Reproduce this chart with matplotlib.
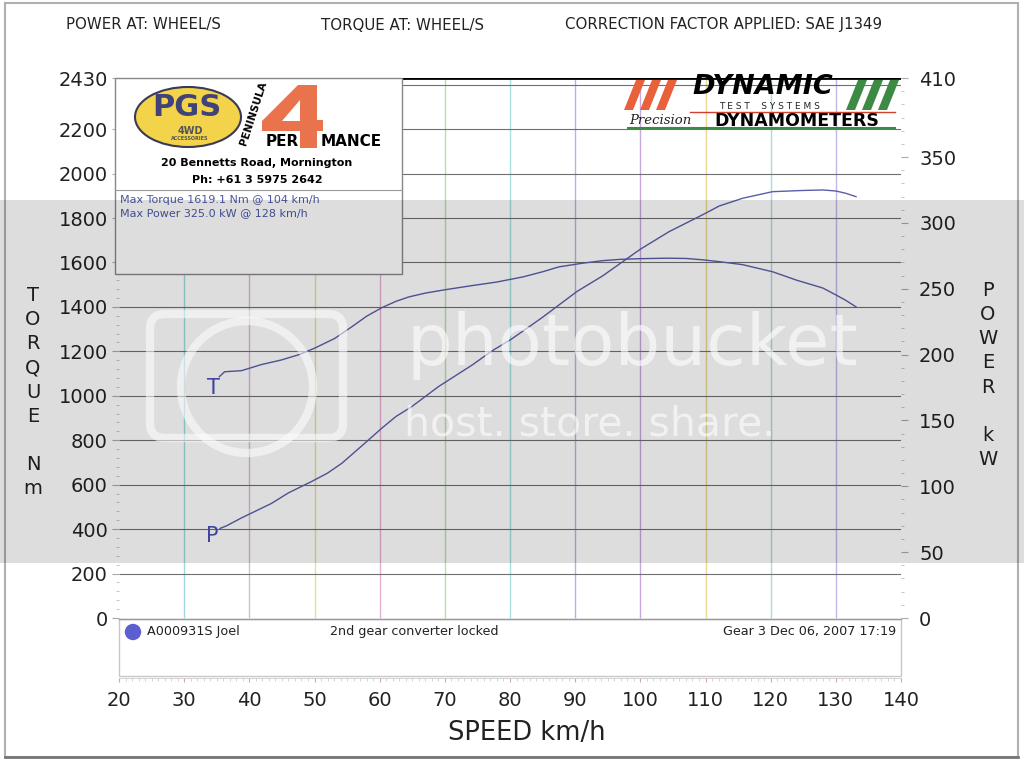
import numpy as np
import matplotlib.pyplot as plt
from matplotlib.patches import Rectangle, Ellipse, Circle, Polygon, FancyBboxPatch

# --- data ---
speed_t = [35.4, 36.2, 38.8, 41.8, 44.9, 47.5, 50.0, 53.1, 55.7, 58.0, 60.3, 62.5,
           64.5, 67.0, 70.0, 74.0, 78.0, 82.0, 85.0, 87.5, 91.0, 94.2, 97.0, 100.0,
           104.0, 107.0, 109.5, 112.0, 115.7, 120.3, 124.0, 128.0, 130.0, 131.5, 133.1]
torque = [1086, 1108, 1113, 1140, 1161, 1184, 1214, 1258, 1310, 1358, 1396, 1425,
          1445, 1462, 1477, 1495, 1512, 1535, 1558, 1580, 1596, 1608, 1614, 1617,
          1619, 1618, 1612, 1604, 1590, 1558, 1520, 1485, 1454, 1430, 1400]

speed_p = [35.5, 36.5, 38.8, 43.4, 46.0, 49.5, 52.0, 54.2, 57.7, 60.3, 62.5, 64.9,
           69.0, 74.2, 77.2, 80.3, 84.9, 90.3, 94.2, 100.0, 104.4, 109.5, 112.1,
           115.7, 120.3, 124.9, 128.0, 130.0, 131.5, 133.1]
power = [68, 70, 76, 87, 95, 103.5, 110, 117.5, 132.6, 144, 153, 160.4,
         175.6, 192.1, 202.7, 212, 228, 248, 259.7, 280, 293.3, 306, 312.8,
         318.7, 323.7, 324.6, 325.0, 324.2, 322.5, 319.9]

speed_ticks = list(range(20, 141, 10))
torque_ticks = [0, 200, 400, 600, 800, 1000, 1200, 1400, 1600, 1800, 2000, 2200, 2430]
power_ticks = [0, 50, 100, 150, 200, 250, 300, 350, 410]
grid_speeds = list(range(30, 131, 10))
grid_colors = ['#9fd8e0', '#d8b8e0', '#e8e08a', '#e8b0d0', '#b8e0a8', '#a8e0e0',
               '#b8b0e8', '#c8a8e0', '#e8d890', '#a8dce0', '#c0b8e8']
torque_grid = list(range(200, 2401, 200))

header = ['POWER AT: WHEEL/S', 'TORQUE AT: WHEEL/S', 'CORRECTION FACTOR APPLIED: SAE J1349']
max_lines = ['Max Torque 1619.1 Nm @ 104 km/h', 'Max Power 325.0 kW @ 128 km/h']

W, H = 1024, 763
curve_col = '#5a5ea8'
text_col = '#222222'


def fig_rect(l, t, r, b):
    return [l / W, 1 - b / H, (r - l) / W, (b - t) / H]


fig = plt.figure(figsize=(10.24, 7.63), dpi=100)
fig.patch.set_facecolor('white')

ax = fig.add_axes(fig_rect(119, 78, 901, 678))
ax.set_xlim(20, 140)
ax.set_ylim(-270, 2430)
ax2 = ax.twinx()
ax2.set_ylim(-270 * 410 / 2430, 410)

# grid
ax.vlines(grid_speeds, 0, 2430, colors=grid_colors, lw=1.0, zorder=1)
ax.hlines(torque_grid, 20, 140, color='#707070', lw=0.8, zorder=1)
ax.hlines(2430, 20, 140, color='black', lw=2, zorder=1)

# curves
ax.plot(speed_t, torque, color=curve_col, lw=1.0, zorder=4)
ax2.plot(speed_p, power, color=curve_col, lw=1.0, zorder=4)
ax.annotate('T', (speed_t[0], torque[0]), xytext=(-4.5, -8.5), textcoords='offset points',
            ha='center', va='center', fontsize=15, color='#4a50b8')
ax2.annotate('P', (speed_p[0], power[0]), xytext=(-5.5, -5.5), textcoords='offset points',
             ha='center', va='center', fontsize=15, color='#4a50b8')

# axes styling
for s in ax.spines.values():
    s.set_visible(False)
for s in ax2.spines.values():
    s.set_visible(False)
ax.spines['bottom'].set_visible(True)
ax.spines['bottom'].set_color('#cccccc')
ax.spines['bottom'].set_linewidth(0.6)

ax.set_xticks(speed_ticks)
ax.set_xticks(np.arange(20, 141, 1), minor=True)
ax.tick_params(axis='x', which='major', labelsize=14, length=3, color='#d0a0c0',
               labelcolor=text_col, pad=6)
ax.tick_params(axis='x', which='minor', length=2, color='#e0c0d0')

ax.set_yticks(torque_ticks)
ax.set_yticks(np.arange(0, 2430, 40), minor=True)
ax.tick_params(axis='y', which='major', labelsize=14, length=5, color='#aaaaaa',
               labelcolor=text_col, pad=3)
ax.tick_params(axis='y', which='minor', length=2.5, color='#bbbbbb')

ax2.set_yticks(power_ticks)
ax2.set_yticks(np.arange(0, 410, 10), minor=True)
ax2.tick_params(axis='y', which='major', labelsize=14, length=5, color='#aaaaaa',
                labelcolor=text_col, pad=8)
ax2.tick_params(axis='y', which='minor', length=2.5, color='#bbbbbb')

# overlay in pixel coordinates for page furniture
ov = fig.add_axes([0, 0, 1, 1])
ov.set_xlim(0, W)
ov.set_ylim(H, 0)
ov.axis('off')
ov.set_zorder(5)
ov.patch.set_alpha(0)

# page border
ov.add_patch(Rectangle((5, 3), 1013, 754, fill=False, ec='#b0b0b0', lw=1.5))
ov.plot([5, 1018], [757, 757], color='#777777', lw=2)

# header
ov.text(66, 25, header[0], fontsize=10.8, color=text_col, va='center')
ov.text(321, 25, header[1], fontsize=10.8, color=text_col, va='center')
ov.text(565, 25, header[2], fontsize=10.8, color=text_col, va='center')

# axis titles
ov.text(33, 392, 'T\nO\nR\nQ\nU\nE\n\nN\nm', fontsize=14, linespacing=1.34,
        ha='center', va='center', color=text_col)
ov.text(988, 375, 'P\nO\nW\nE\nR\n\nk\nW', fontsize=14, linespacing=1.34,
        ha='center', va='center', color=text_col)
ov.text(527, 733, 'SPEED km/h', fontsize=18.5, ha='center', va='center', color=text_col)

# left info box with logos
ov.add_patch(Rectangle((115, 78), 287, 196, fc='white', ec='#888888', lw=1, zorder=2))
ov.plot([115, 402], [190, 190], color='#999999', lw=0.8, zorder=3)
ov.add_patch(Ellipse((188, 117), 106, 60, fc='#f2d34a', ec='#3a3a55', lw=1.5, zorder=3))
ov.text(187, 107, 'PGS', fontsize=22, fontweight='bold', color='#3f4377',
        ha='center', va='center', zorder=4)
ov.text(190, 131, '4WD', fontsize=7, fontweight='bold', color='#555555',
        ha='center', va='center', zorder=4)
ov.text(190, 139, 'ACCESSORIES', fontsize=3.5, fontweight='bold', color='#555555',
        ha='center', va='center', zorder=4)
# block "4" of the Peninsula Per4mance logo
ov.add_patch(Polygon([(298, 85), (317, 85), (317, 120), (323, 120), (323, 131),
                      (317, 131), (317, 148), (300, 148), (300, 131), (262, 131),
                      (262, 121)], closed=True, fc='#e8734c', ec='none', zorder=3))
ov.add_patch(Polygon([(282, 121), (300, 121), (300, 100)], closed=True,
                     fc='white', ec='none', zorder=3))
ov.text(282, 141, 'PER', fontsize=11, fontweight='bold', color='black',
        ha='center', va='center', zorder=4)
ov.text(351, 141, 'MANCE', fontsize=11, fontweight='bold', color='black',
        ha='center', va='center', zorder=4)
ov.text(253, 113, 'PENINSULA', fontsize=7.5, fontweight='bold', color='black',
        ha='center', va='center', rotation=72, zorder=4)
ov.text(257, 163, '20 Bennetts Road, Mornington', fontsize=8, fontweight='bold',
        color='black', ha='center', va='center', zorder=4)
ov.text(257, 180, 'Ph: +61 3 5975 2642', fontsize=8, fontweight='bold',
        color='black', ha='center', va='center', zorder=4)
ov.text(120, 200, max_lines[0], fontsize=8, color='#4a58a8', va='center', zorder=4)
ov.text(120, 213, max_lines[1], fontsize=8, color='#4a58a8', va='center', zorder=4)

# dynamic test systems logo
for x0 in (624, 640, 656):
    ov.add_patch(Polygon([(x0, 110), (x0 + 9, 110), (x0 + 21, 80), (x0 + 12, 80)],
                         closed=True, fc='#e8613a', ec='none', zorder=3))
for x0 in (846, 862, 878):
    ov.add_patch(Polygon([(x0, 110), (x0 + 9, 110), (x0 + 21, 80), (x0 + 12, 80)],
                         closed=True, fc='#3d8a45', ec='none', zorder=3))
ov.text(763, 87, 'DYNAMIC', fontsize=19.5, fontweight='bold', fontstyle='italic',
        color='black', ha='center', va='center', zorder=4)
ov.text(770, 106.5, 'T E S T    S Y S T E M S', fontsize=6.5, color='#222222',
        ha='center', va='center', zorder=4)
ov.plot([690, 895], [112, 112], color='#d04030', lw=1, zorder=3)
ov.text(660, 120, 'Precision', fontsize=9.5, fontstyle='italic', family='serif',
        color='#222222', ha='center', va='center', zorder=4)
ov.text(797, 121, 'DYNAMOMETERS', fontsize=12.5, fontweight='bold', color='black',
        ha='center', va='center', zorder=4)
ov.plot([628, 895], [128, 128], color='#3d8a45', lw=1.5, zorder=3)

# legend box
ov.add_patch(Rectangle((119, 619), 782, 57, fc='white', ec='#c8c8c8', lw=1, zorder=2))
ov.plot([119, 901], [619, 619], color='#999999', lw=1, zorder=3)
ov.add_patch(Circle((133, 632), 7.5, color='#5c5fd0', zorder=3))
ov.text(147, 632, 'A000931S Joel', fontsize=9.2, color=text_col, va='center', zorder=4)
ov.text(414, 632, '2nd gear converter locked', fontsize=9.2, color=text_col,
        ha='center', va='center', zorder=4)
ov.text(896, 632, 'Gear 3 Dec 06, 2007 17:19', fontsize=9.2, color=text_col,
        ha='right', va='center', zorder=4)

# watermark band
ov.add_patch(Rectangle((0, 200), W, 363, fc='black', alpha=0.135, lw=0, zorder=10))
ov.add_patch(FancyBboxPatch((150, 314), 193, 124, boxstyle='round,pad=0,rounding_size=15',
                            fill=False, ec='white', alpha=0.55, lw=6, zorder=11))
ov.add_patch(Circle((247, 387), 66, fill=False, ec='white', alpha=0.55, lw=6, zorder=11))
ov.text(632, 345, 'photobucket', fontsize=52, color='white', alpha=0.6,
        ha='center', va='center', zorder=11)
ov.text(590, 425, 'host. store. share.', fontsize=29.5, color='white', alpha=0.6,
        ha='center', va='center', zorder=11)

fig.savefig('out.png', dpi=100)
